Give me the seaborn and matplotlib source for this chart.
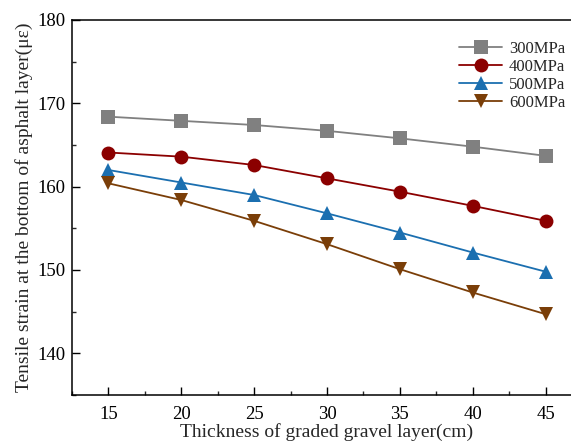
import matplotlib
matplotlib.use("Agg")
import matplotlib.pyplot as plt
import seaborn as sns
import pandas as pd
from matplotlib.ticker import MultipleLocator

thickness = [15, 20, 25, 30, 35, 40, 45]
s300 = [168.4, 167.9, 167.4, 166.7, 165.8, 164.8, 163.7]
s400 = [164.1, 163.6, 162.6, 161.0, 159.4, 157.7, 155.9]
s500 = [162.0, 160.5, 159.0, 156.8, 154.5, 152.1, 149.8]
s600 = [160.4, 158.4, 155.9, 153.1, 150.1, 147.3, 144.7]
labels = ["300MPa", "400MPa", "500MPa", "600MPa"]

rows = []
for lab, vals in zip(labels, [s300, s400, s500, s600]):
    for x, v in zip(thickness, vals):
        rows.append({"x": x, "y": v, "series": lab})
df = pd.DataFrame(rows)

sns.set_theme(style="ticks")
plt.rcParams['font.family'] = ['Liberation Serif', 'DejaVu Serif']

fig = plt.figure(figsize=(5.71, 4.47), dpi=100)
ax = fig.add_axes([72/571, 1 - 395/447, 510/571, (395-20)/447])

palette = {"300MPa": "#808080", "400MPa": "#8b0000", "500MPa": "#1b6fb0", "600MPa": "#7a3e08"}
markers = {"300MPa": "s", "400MPa": "o", "500MPa": "^", "600MPa": "v"}
sns.lineplot(data=df, x="x", y="y", hue="series", style="series", palette=palette,
             markers=markers, dashes=False, markersize=10, markeredgewidth=0,
             linewidth=1.3, ax=ax)

ax.set_xlim(12.5, 47.5)
ax.set_ylim(135, 180)
ax.set_xticks(thickness)
ax.xaxis.set_minor_locator(MultipleLocator(2.5))
ax.yaxis.set_major_locator(MultipleLocator(10))
ax.yaxis.set_minor_locator(MultipleLocator(5))
ax.tick_params(axis="both", which="major", direction="in", length=6, width=1, labelsize=13.5, colors="black")
ax.tick_params(axis="x", which="major", pad=8)
ax.tick_params(axis="y", which="major", pad=5)
ax.tick_params(axis="both", which="minor", direction="in", length=3, width=1)
ax.tick_params(top=False, right=False, which="both")
for sp in ax.spines.values():
    sp.set_linewidth(1.1)
    sp.set_color("black")

ax.set_xlabel("Thickness of graded gravel layer(cm)", fontsize=14, labelpad=0)
ax.set_ylabel("Tensile strain at the bottom of asphalt layer(\u03bc\u03b5)", fontsize=14, labelpad=3)

leg = ax.legend(loc="upper right", bbox_to_anchor=(0.99, 0.975), frameon=False, fontsize=12,
                handlelength=2.6, labelspacing=0.12, borderaxespad=0.3, handletextpad=0.4)

fig.savefig("out.png", dpi=100)
